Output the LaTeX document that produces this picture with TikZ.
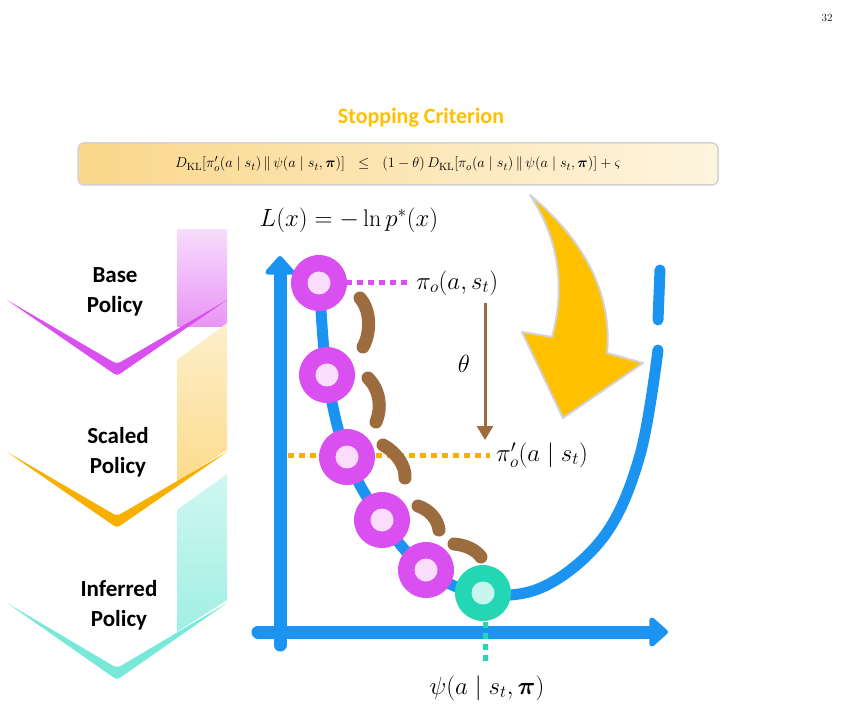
\documentclass[tikz,border=0pt]{standalone}
\usepackage{amsmath}
\usepackage{amssymb}
\usepackage{bm}
\usepackage{fontspec}
\newfontfamily\calib{Carlito}
\usepackage{tikz}
\usetikzlibrary{arrows.meta, positioning, calc}

\definecolor{axisblue}{HTML}{1A94F0}
\definecolor{basepink}{HTML}{D94FF0}
\definecolor{lightpink}{HTML}{F9DDFB}
\definecolor{scaledorange}{HTML}{F7B000}
\definecolor{inferteal}{HTML}{78E8D8}
\definecolor{optteal}{HTML}{24D7B4}
\definecolor{stepbrown}{HTML}{9C6B3E}
\definecolor{critgold}{HTML}{FFC000}

\begin{document}
\begin{tikzpicture}[
  x=1pt, y=-1pt,
  axis/.style={line width=13pt, axisblue, line cap=round,
    -{Triangle[width=34pt,length=20pt,round]}},
  curve/.style={line width=11pt, axisblue, line cap=round},
  policy/.style={circle, fill=basepink, minimum size=56pt, inner sep=0pt},
  optimum/.style={circle, fill=optteal, minimum size=56pt, inner sep=0pt},
  core/.style={circle, fill=lightpink, minimum size=23pt, inner sep=0pt},
  stepdash/.style={line width=13pt, stepbrown, line cap=round},
  dots/.style={line width=5pt, dash pattern=on 6pt off 5pt},
  label/.style={font=\calib\bfseries\fontsize{23}{30}\selectfont, align=center},
  math/.style={font=\fontsize{24}{28}\selectfont, inner sep=0pt}
]
\useasboundingbox (0,0) rectangle (845,708);

% ===== PAGE NUMBER AND TITLE =====
\node[font=\fontsize{11}{13}\selectfont] (page) at (827,18) {32};
\node[font=\calib\bfseries\fontsize{22}{26}\selectfont, text=critgold] (title) at (421,118) {Stopping Criterion};

% ===== CRITERION BOX =====
\node[rounded corners=6pt, draw=gray!35, line width=1.5pt,
  left color={rgb,255:red,250;green,215;blue,138}, right color={rgb,255:red,254;green,245;blue,224},
  minimum width=640pt, minimum height=42pt, font=\fontsize{15}{18}\selectfont] (crit) at (398,164)
  {$D_{\mathrm{KL}}[\pi'_o(a\mid s_t)\,\|\,\psi(a\mid s_t,\bm{\pi})]\ \ \leq\ \ (1-\theta)\,D_{\mathrm{KL}}[\pi_o(a\mid s_t)\,\|\,\psi(a\mid s_t,\bm{\pi})]+\varsigma$};

% ===== LEFT POLICY CHEVRONS =====
\shade[bottom color=basepink!60, top color=basepink!20] (177,230) rectangle (227,326);
\shade[bottom color=scaledorange!45, top color=scaledorange!20] (177,360) -- (227,323) -- (227,450) -- (177,482) -- cycle;
\shade[bottom color=inferteal!70, top color=inferteal!35] (177,510) -- (227,474) -- (227,600) -- (177,632) -- cycle;
\fill[basepink] (7,300) -- (110,371) .. controls (117,376) and (117,376) .. (124,371) -- (227,300) -- (124,360) .. controls (117,364) and (117,364) .. (110,360) -- cycle;
\fill[scaledorange] (7,452) -- (110,523) .. controls (117,528) and (117,528) .. (124,523) -- (227,452) -- (124,512) .. controls (117,516) and (117,516) .. (110,512) -- cycle;
\fill[inferteal] (7,603) -- (110,675) .. controls (117,680) and (117,680) .. (124,675) -- (227,603) -- (124,664) .. controls (117,668) and (117,668) .. (110,664) -- cycle;
\node[label] (base) at (115,292) {Base\\Policy};
\node[label] (scaled) at (118,452) {Scaled\\Policy};
\node[label] (inferred) at (119,605) {Inferred\\Policy};

% ===== AXES AND LOSS CURVE =====
\node[math] (loss) at (349,220) {$L(x)=-\ln p^{*}(x)$};
\coordinate (yfoot) at (280,645);
\coordinate (ytop) at (280,256);
\coordinate (xfoot) at (258,632);
\coordinate (xtop) at (668,632);
\draw[axis] (yfoot) -- (ytop);
\draw[axis] (xfoot) -- (xtop);
\draw[curve] plot[smooth, tension=0.6] coordinates {(316,270) (319,283) (327,375) (347,457) (382,520) (426,570) (483,594) (545,586) (605,535) (640,455) (658,350)};
\draw[curve] (660,270) -- (658,320);

% ===== STOPPING ARROW =====
\filldraw[fill=critgold, draw=gray!35, line width=2pt, line join=round]
  (530,195) .. controls (590,245) and (612,300) .. (607,353) -- (643,363) -- (563,418)
  -- (522,332) -- (552,337) .. controls (565,290) and (560,240) .. cycle;

% ===== GUIDE LINES AND LABELS =====
\draw[dots, basepink] (346,283) -- (410,283);
\node[math, anchor=west] (pio) at (416,283) {$\pi_o(a,s_t)$};
\draw[dots, scaledorange] (288,455) -- (490,455);
\node[math, anchor=west] (piscaled) at (496,455) {$\pi'_o(a\mid s_t)$};
\draw[dots, optteal] (485,622) -- (485,662);
\node[math] (psi) at (487,688) {$\psi(a\mid s_t,\bm{\pi})$};
\draw[line width=3pt, stepbrown, -{Triangle[width=16pt,length=14pt]}] (485,303) -- (485,440);
\node[math, font=\fontsize{30}{34}\selectfont] (theta) at (464,364) {$\theta$};

% ===== POLICY ITERATES =====
\draw[stepdash] (360,298) .. controls (372,312) and (370,335) .. (363,347);
\draw[stepdash] (368,378) .. controls (380,390) and (382,408) .. (376,422);
\draw[stepdash] (383,445) .. controls (396,452) and (406,466) .. (405,478);
\draw[stepdash] (418,506) .. controls (430,510) and (438,520) .. (439,530);
\draw[stepdash] (454,544) .. controls (466,545) and (476,550) .. (481,557);
\node[policy] (c1) at (319,283) {};
\node[policy] (c2) at (327,375) {};
\node[policy] (c3) at (347,457) {};
\node[policy] (c4) at (382,520) {};
\node[policy] (c5) at (426,570) {};
\node[optimum] (c6) at (483,593) {};
\foreach \c in {c1,c2,c3,c4,c5} \node[core] at (\c) {};
\node[core, fill=optteal!25] at (c6) {};
\end{tikzpicture}
\end{document}
